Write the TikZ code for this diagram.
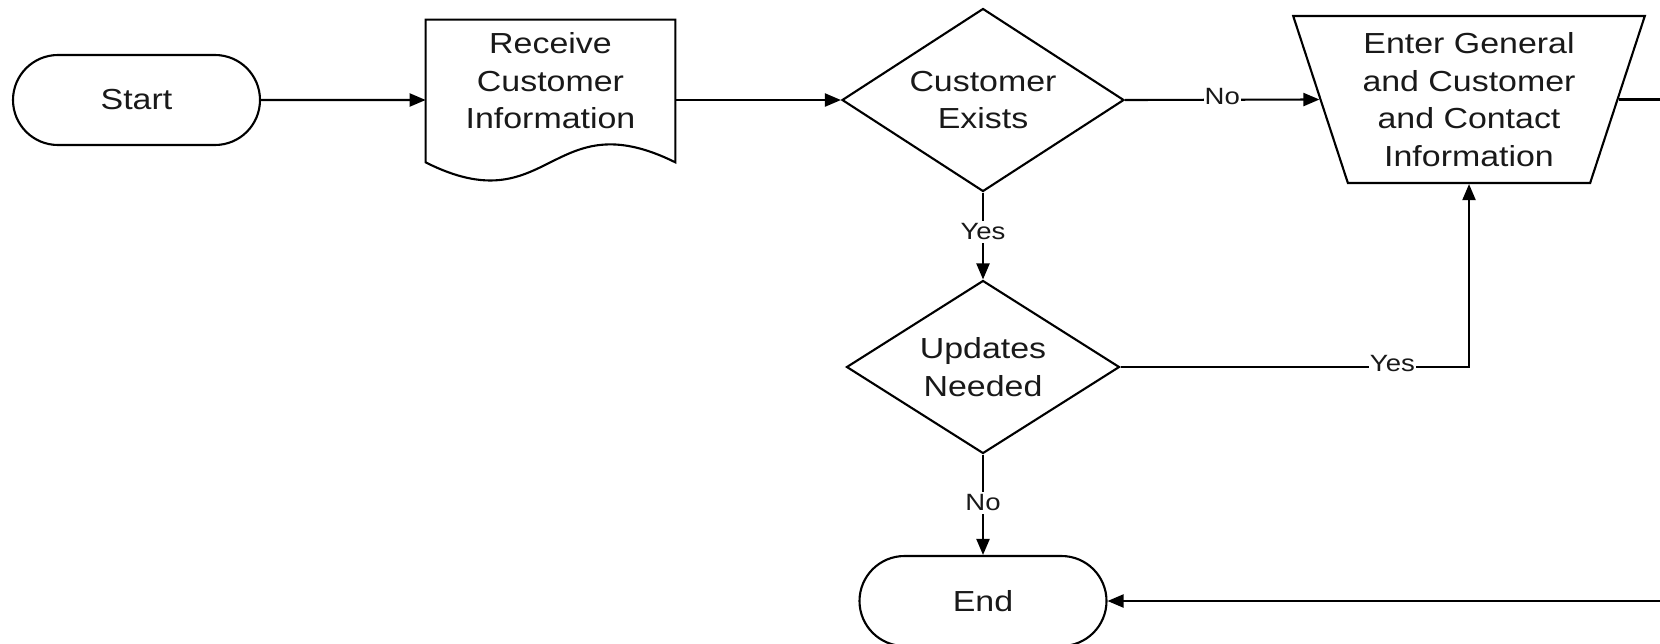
\documentclass[tikz,border=0pt]{standalone}
\usepackage{fontspec}
\setmainfont[FakeStretch=1.17]{Liberation Sans}
\usetikzlibrary{shapes.geometric,shapes.misc,arrows.meta}
\newlength\pxl
\setlength\pxl{0.02cm}
\begin{document}
\begin{tikzpicture}[x=0.02cm,y=-0.02cm,
  every node/.style={font=\fontsize{16.5}{21.3}\selectfont, align=center, text=black!90},
  conn/.style={line width=1.2pt, draw=black},
  arr/.style={conn, -{Triangle[length=9.1pt,width=7.4pt]}},
  terminal/.style={rounded rectangle, draw, conn, minimum width=247\pxl, minimum height=90\pxl, inner sep=0pt},
  decision/.style={diamond, draw, conn, inner sep=0pt},
  manual/.style={trapezium, draw, conn, shape border rotate=180, trapezium stretches=true,
    trapezium left angle=70.2, trapezium right angle=70.2,
    minimum width=352\pxl, minimum height=167\pxl, inner sep=0pt},
  lbl/.style={font=\fontsize{13.4}{16}\selectfont, fill=white, inner sep=1.5pt},
  hlbl/.style={lbl, inner xsep=0.4pt, inner ysep=0.8pt, yshift=2pt},
]
\useasboundingbox (0,0) rectangle (1660,643);
\clip (0,0) rectangle (1660,643);

% terminals
\node[terminal] (start) at (136.5,100) {Start};
\node[terminal] (end) at (983,601) {End};

% document shape with a wavy lower edge
\node[minimum width=249\pxl, minimum height=142\pxl, inner sep=0pt] (recv) at (550.5,91) {};
\draw[conn] (recv.south east) .. controls (550,100) and (550,225) .. (recv.south west)
  -- (recv.north west) -- (recv.north east) -- cycle;
\node (recvtext) at ([yshift=5.9pt]recv.center) {Receive\\Customer\\Information};

% decisions
\node[decision, aspect=1.54, minimum width=282\pxl, minimum height=183\pxl] (exists) at (983,100) {Customer\\Exists};
\node[decision, aspect=1.58, minimum width=273\pxl, minimum height=173\pxl] (updates) at (983,367) {Updates\\Needed};

% manual input
\node[manual] (enter) at (1469,99.5) {Enter General\\and Customer\\and Contact\\Information};

\coordinate (loop) at (1720,350);

% connectors
\draw[arr] (start) -- (start -| recv.west);
\draw[arr] (exists.west -| recv.east) -- (exists.west);
\draw[arr] (exists.east) -- node[hlbl]{No} (enter.west);
\draw[arr] (exists.south) -- node[lbl, pos=0.45]{Yes} (updates.north);
\draw[arr] (updates.east) -| node[hlbl, pos=0.39]{Yes} (enter.south);
\draw[arr] (updates.south) -- node[lbl, pos=0.48]{No} (end.north);
\draw[arr] (enter.east) -- (enter.east -| loop) -- (loop |- end.east) -- (end.east);
\end{tikzpicture}
\end{document}
